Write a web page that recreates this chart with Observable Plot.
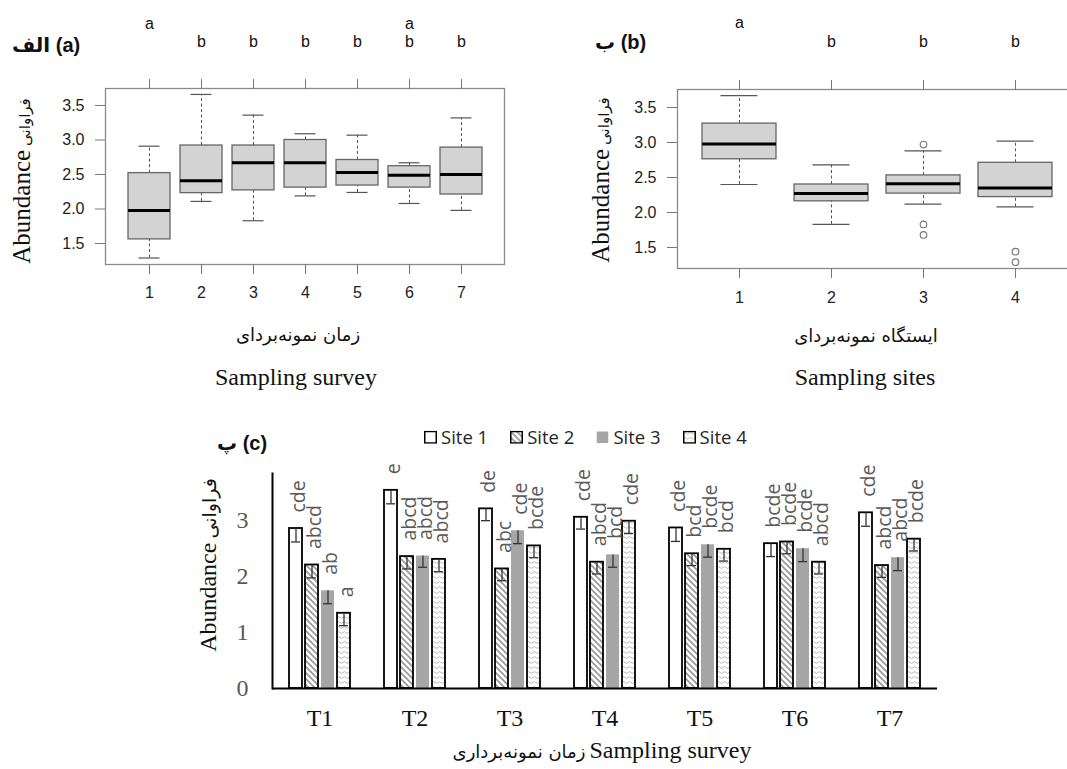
<!DOCTYPE html>
<html><head><meta charset="utf-8">
<script src="https://cdn.jsdelivr.net/npm/d3@7"></script>
<script src="https://cdn.jsdelivr.net/npm/@observablehq/plot@0.6"></script>
<style>
html,body{margin:0;padding:0;background:#fff;overflow:hidden}
#root{position:relative;width:1067px;height:769px;overflow:hidden;background:#fff}
.t{position:absolute;white-space:nowrap;line-height:1;direction:ltr;color:#111}
.c{transform:translate(-50%,-50%)}
.l{transform:translate(0,-50%)}
.r{transform:translate(-50%,-50%) rotate(-90deg)}
.serif{font-family:"Liberation Serif","Times New Roman",serif}
.fa{font-family:"DejaVu Sans",sans-serif}
.ttl{font-family:"Liberation Sans","DejaVu Sans",sans-serif;font-weight:bold;font-size:20px}
</style></head><body>
<svg width="0" height="0" style="position:absolute">
<defs>
<pattern id="pat2" patternUnits="userSpaceOnUse" width="6" height="6">
<rect width="6" height="6" fill="#fff"/>
<path d="M-1.5,-1.5L7.5,7.5M-1.5,4.5L1.5,7.5M4.5,-1.5L7.5,1.5" stroke="#9a9a9a" stroke-width="1.7"/>
</pattern>
<pattern id="pat4" patternUnits="userSpaceOnUse" width="6" height="5">
<rect width="6" height="5" fill="#fff"/>
<path d="M0,2.5 Q1.5,0.8 3,2.5 T6,2.5" fill="none" stroke="#b0b0b0" stroke-width="0.9"/>
</pattern>
</defs></svg>
<div id="root"></div>
<script>
// ---------- Panel (a): abundance by sampling survey ----------
const surveys = [1, 2, 3, 4, 5, 6, 7];
const aLow = [1.29, 2.11, 1.83, 2.19, 2.24, 2.08, 1.98];
const aQ1  = [1.56, 2.23, 2.27, 2.31, 2.34, 2.31, 2.21];
const aMed = [1.98, 2.41, 2.67, 2.67, 2.53, 2.49, 2.50];
const aQ3  = [2.52, 2.92, 2.92, 3.00, 2.71, 2.62, 2.89];
const aHigh= [2.91, 3.66, 3.36, 3.09, 3.07, 2.67, 3.32];
const aLetters = ["a", "b", "b", "b", "b", "ab", "b"];
const aOutliers = [];

// ---------- Panel (b): abundance by sampling site ----------
const stations = [1, 2, 3, 4];
const bLow = [2.40, 1.83, 2.12, 2.08];
const bQ1  = [2.76, 2.16, 2.27, 2.22];
const bMed = [2.98, 2.27, 2.41, 2.35];
const bQ3  = [3.27, 2.40, 2.53, 2.71];
const bHigh= [3.67, 2.68, 2.88, 3.02];
const bOutlierSite = [3, 3, 3, 4, 4];
const bOutlierVal  = [2.97, 1.83, 1.68, 1.44, 1.29];
const bLetters = ["a", "b", "b", "b"];

const boxTicks = [1.5, 2.0, 2.5, 3.0, 3.5];

// ---------- Panel (c): bars ----------
const times = ["T1", "T2", "T3", "T4", "T5", "T6", "T7"];
const siteNames = ["Site 1", "Site 2", "Site 3", "Site 4"];
const site1 = [2.85, 3.53, 3.20, 3.05, 2.86, 2.58, 3.13];
const site2 = [2.20, 2.35, 2.13, 2.25, 2.40, 2.61, 2.19];
const site3 = [1.74, 2.36, 2.81, 2.38, 2.56, 2.49, 2.33];
const site4 = [1.34, 2.30, 2.54, 2.98, 2.48, 2.25, 2.66];
const err1 = [0.24, 0.24, 0.21, 0.21, 0.24, 0.23, 0.24];
const err2 = [0.23, 0.22, 0.21, 0.21, 0.21, 0.21, 0.21];
const err3 = [0.23, 0.20, 0.23, 0.22, 0.22, 0.23, 0.23];
const err4 = [0.22, 0.22, 0.21, 0.22, 0.21, 0.21, 0.21];
const lab1 = ["cde", "e", "de", "cde", "cde", "bcde", "cde"];
const lab2 = ["abcd", "abcd", "abc", "abcd", "bcd", "bcde", "abcd"];
const lab3 = ["ab", "abcd", "cde", "bcd", "bcde", "bcde", "abcd"];
const lab4 = ["a", "abcd", "bcde", "cde", "bcd", "abcd", "bcde"];
const barTicks = [0, 1, 2, 3];
const siteFills = ["#ffffff", "url(#pat2)", "#a6a6a6", "url(#pat4)"];

const root = document.getElementById("root");
function placeSvg(svg, left, top) {
  svg.style.position = "absolute";
  svg.style.left = left + "px";
  svg.style.top = top + "px";
  svg.style.overflow = "visible";
  svg.style.background = "transparent";
  root.appendChild(svg);
}
function addText(html, cls, x, y, style = "") {
  const d = document.createElement("div");
  d.className = "t " + cls;
  d.style.cssText = `left:${x}px;top:${y}px;` + style;
  d.innerHTML = html;
  root.appendChild(d);
  return d;
}

function boxPanel(cats, lo, q1, med, q3, hi, outl, letters, o) {
  const rows = cats.map((c, i) => ({c, lo: lo[i], q1: q1[i], med: med[i], q3: q3[i], hi: hi[i]}));
  const lrows = [];
  cats.forEach((c, i) => { for (const ch of letters[i]) lrows.push({c, ch}); });
  const wh = {stroke: "#555", strokeWidth: 1, strokeDasharray: "3,2.5"};
  const cap = {insetLeft: o.cap, insetRight: o.cap, stroke: "#555", strokeWidth: 1.2};
  const lt = {x: "c", text: "ch", frameAnchor: "top", lineAnchor: "middle", fontSize: 16, fill: "#111"};
  return Plot.plot({
    width: o.width, height: o.height,
    marginLeft: o.ml, marginRight: o.mr, marginTop: o.mt, marginBottom: o.mb,
    style: {fontFamily: '"Liberation Sans", Arial, sans-serif', fontSize: "16px"},
    x: {type: "band", domain: cats, paddingInner: 0.2, paddingOuter: o.po},
    y: {domain: o.yd},
    marks: [
      Plot.frame({stroke: "#8a8a8a", strokeWidth: 1.3}),
      Plot.ruleX(rows, {x: "c", y1: "q3", y2: "hi", ...wh}),
      Plot.ruleX(rows, {x: "c", y1: "lo", y2: "q1", ...wh}),
      Plot.tickY(rows, {x: "c", y: "hi", ...cap}),
      Plot.tickY(rows, {x: "c", y: "lo", ...cap}),
      Plot.barY(rows, {x: "c", y1: "q1", y2: "q3", fill: "#d3d3d3", stroke: "#666", strokeWidth: 1.3}),
      Plot.tickY(rows, {x: "c", y: "med", stroke: "#000", strokeWidth: 3}),
      Plot.dot(outl, {x: "c", y: "v", r: 3.3, stroke: "#777", strokeWidth: 1.1, fill: "none"}),
      Plot.axisY({ticks: boxTicks, tickFormat: d3.format(".1f"), tickSize: 10, tickPadding: 11, stroke: "#777", fill: "#222", fontSize: 16, label: null}),
      Plot.axisX({anchor: "bottom", tickSize: 10, tickPadding: o.tp, stroke: "#777", fill: "#222", fontSize: 16, label: null}),
      Plot.axisX({anchor: "top", tickSize: 10, tickFormat: () => "", stroke: "#777", label: null}),
      Plot.text(lrows.filter(d => d.ch === "a"), {...lt, dy: o.dyA}),
      Plot.text(lrows.filter(d => d.ch === "b"), {...lt, dy: o.dyB})
    ]
  });
}

// Panel (a)
const svgA = boxPanel(surveys, aLow, aQ1, aMed, aQ3, aHigh, aOutliers, aLetters,
  {width: 530, height: 400, ml: 105, mr: 26, mt: 88, mb: 136, po: 0.38, yd: [1.196, 3.746], cap: 10.5, tp: 12, dyA: -65, dyB: -47});
placeSvg(svgA, 0, 0);

// Panel (b)
const bOut = bOutlierSite.map((c, i) => ({c, v: bOutlierVal[i]}));
const svgB = boxPanel(stations, bLow, bQ1, bMed, bQ3, bHigh, bOut, bLetters,
  {width: 560, height: 400, ml: 147, mr: 13, mt: 89, mb: 132, po: 0.26, yd: [1.2, 3.757], cap: 18.5, tp: 13.5, dyA: -67, dyB: -48});
placeSvg(svgB, 530, 0);

// Panel (c)
const vals = [site1, site2, site3, site4];
const errs = [err1, err2, err3, err4];
const labs = [lab1, lab2, lab3, lab4];
const barRows = [];
times.forEach((t, i) => siteNames.forEach((s, j) => barRows.push({time: t, site: s, v: vals[j][i], e: errs[j][i], lab: labs[j][i]})));

const svgC = Plot.plot({
  width: 810, height: 330, marginLeft: 121, marginRight: 23, marginTop: 33, marginBottom: 82,
  style: {fontFamily: '"Liberation Serif", serif', fontSize: "24px"},
  fx: {domain: times, paddingInner: 0, paddingOuter: 0, label: null},
  x: {domain: siteNames, paddingInner: 0.19, paddingOuter: 0.96, axis: null},
  y: {domain: [0, 3.83], label: null},
  color: {type: "ordinal", domain: siteNames, range: siteFills},
  marks: [
    Plot.barY(barRows, {fx: "time", x: "site", y: "v", fill: "site"}),
    Plot.barY(barRows.filter(d => d.site !== "Site 3"), {fx: "time", x: "site", y: "v", fill: "none", stroke: "#000", strokeWidth: 1.8}),
    Plot.ruleX(barRows, {fx: "time", x: "site", y1: d => d.v - d.e, y2: "v", stroke: "#333", strokeWidth: 1.3}),
    Plot.tickY(barRows, {fx: "time", x: "site", y: d => d.v - d.e, insetLeft: 2, insetRight: 2, stroke: "#333", strokeWidth: 1.3}),
    Plot.text(barRows, {fx: "time", x: "site", y: "v", text: "lab", rotate: -90, textAnchor: "start", dx: 3, dy: -16, fontSize: 19.5, fill: "#595959", fontFamily: '"Open Sans", sans-serif'}),
    Plot.ruleY([0], {stroke: "#000", strokeWidth: 2}),
    Plot.frame({anchor: "left", facetAnchor: "left", stroke: "#000", strokeWidth: 2}),
    Plot.axisY({ticks: barTicks, tickFormat: d3.format("d"), tickSize: 0, tickPadding: 24, fontSize: 24, fill: "#595959", label: null}),
    Plot.axisFx({anchor: "bottom", tickSize: 0, tickPadding: 20, fontSize: 24, fill: "#111", label: null})
  ]
});
placeSvg(svgC, 150, 440);

// ---------- Texts ----------
addText('الف (a)', "ttl l", 12, 45);
addText('ب (b)', "ttl l", 595, 42);
addText('پ (c)', "ttl l", 217, 443);

const ylabSmall = '<span class="serif" style="font-size:25px">Abundance</span> <span class="fa" style="font-size:15px">فراوانی</span>';
addText(ylabSmall, "r", 21, 181);
addText(ylabSmall, "r", 600, 180);
addText('<span class="serif" style="font-size:24px">Abundance</span> <span class="fa" style="font-size:19px">فراوانی</span>', "r", 208, 565);

addText('زمان نمونه\u200cبردای', "fa c", 298, 335, "font-size:18px");
addText('Sampling survey', "serif c", 296, 377, "font-size:24px");
addText('ایستگاه نمونه\u200cبردای', "fa c", 866, 336, "font-size:18px");
addText('Sampling sites', "serif c", 865, 377, "font-size:24px");
addText('<span class="fa" style="font-size:18px">زمان نمونه\u200cبرداری</span> <span class="serif" style="font-size:24px">Sampling survey</span>', "c", 602, 750);

// Legend
const legHtml = siteNames.map((s, j) => {
  const stroke = j === 2 ? "none" : "#000";
  return `<span style="display:inline-flex;align-items:center;margin-right:${j < 3 ? 22 : 0}px"><svg width="13" height="13" style="margin-right:4px"><rect x="0.75" y="0.75" width="11.5" height="11.5" fill="${siteFills[j]}" stroke="${stroke}" stroke-width="1.5"/></svg>${s}</span>`;
}).join("");
addText(legHtml, "l", 424, 437, 'font-family:"Open Sans",sans-serif;font-size:18.5px;color:#262626;display:flex;align-items:center');
</script></body></html>
